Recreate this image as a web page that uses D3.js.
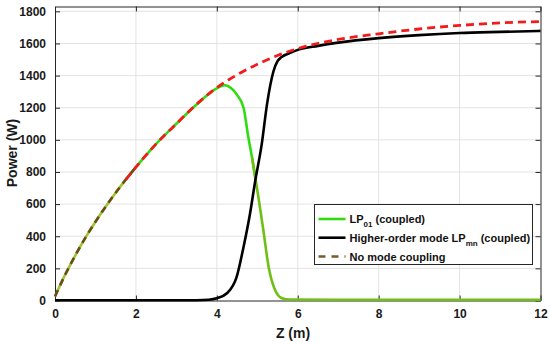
<!DOCTYPE html>
<html>
<head>
<meta charset="utf-8">
<script src="https://cdn.jsdelivr.net/npm/d3@7"></script>
<style>
  html, body { margin: 0; padding: 0; background: #fff; }
  svg { display: block; font-family: "Liberation Sans", Arial, sans-serif; }
</style>
</head>
<body>
<svg id="chart" width="550" height="343"></svg>
<script>
// Data
const zNoCoupling = [0, 0.25, 0.5, 0.75, 1, 1.25, 1.5, 1.75, 2, 2.5, 3, 3.5, 4, 4.5, 5, 5.5, 6, 7, 8, 9, 10, 11, 12];
const pNoCoupling = [25, 160, 280, 390, 490, 583, 671, 753, 830, 975, 1100, 1222, 1325, 1405, 1470, 1525, 1568, 1625, 1660, 1690, 1712, 1728, 1736];

const zLP01 = [0, 0.25, 0.5, 0.75, 1, 1.25, 1.5, 1.75, 2, 2.5, 3, 3.5, 3.9, 4.1, 4.21, 4.35, 4.49, 4.66, 4.78, 4.87, 4.95, 5.03, 5.15, 5.28, 5.44, 5.61, 5.8, 7, 9, 12];
const pLP01 = [25, 160, 280, 390, 490, 583, 671, 753, 830, 975, 1100, 1220, 1305, 1334, 1340, 1322, 1283, 1200, 1014, 890, 766, 640, 437, 209, 65, 14, 6, 5, 5, 5];

const zLPmn = [0, 3.5, 3.8, 4.0, 4.25, 4.49, 4.66, 4.82, 4.95, 5.11, 5.24, 5.4, 5.5, 5.6, 5.8, 6, 6.5, 7, 8, 9, 10, 11, 12];
const pLPmn = [2, 2, 5, 14, 45, 147, 333, 540, 746, 973, 1221, 1427, 1490, 1515, 1540, 1560, 1585, 1605, 1633, 1652, 1665, 1672, 1678];

const xTicks = [0, 2, 4, 6, 8, 10, 12];
const yTicks = [0, 200, 400, 600, 800, 1000, 1200, 1400, 1600, 1800];

const svg = d3.select("#chart");
const m = { left: 55, right: 540.5, top: 6.5, bottom: 300.5 };

const x = d3.scaleLinear().domain([0, 12]).range([m.left, m.right]);
const y = d3.scaleLinear().domain([0, 1830]).range([m.bottom, m.top]);

const toPts = (zs, ps) => zs.map((z, i) => ({ z: z, p: ps[i] }));
const noCoupling = toPts(zNoCoupling, pNoCoupling);
const lp01 = toPts(zLP01, pLP01);
const lpmn = toPts(zLPmn, pLPmn);

// grid
svg.append("g").selectAll("line").data(xTicks.slice(1, -1)).enter().append("line")
  .attr("x1", d => x(d)).attr("x2", d => x(d))
  .attr("y1", m.top).attr("y2", m.bottom)
  .attr("stroke", "#e3e3e3").attr("stroke-width", 1);
svg.append("g").selectAll("line").data(yTicks.slice(1)).enter().append("line")
  .attr("x1", m.left).attr("x2", m.right)
  .attr("y1", d => y(d)).attr("y2", d => y(d))
  .attr("stroke", "#e3e3e3").attr("stroke-width", 1);

// box + inward ticks
const axisColor = "#262626";
const tickFont = "bold 12px 'Liberation Sans', Arial, sans-serif";
const fmt = d3.format("d");

const xAxis = svg.append("g").attr("transform", `translate(0,${m.bottom})`)
  .call(d3.axisBottom(x).tickValues(xTicks).tickFormat(fmt).tickSizeInner(-5).tickSizeOuter(0).tickPadding(9));
const xTop = svg.append("g").attr("transform", `translate(0,${m.top})`)
  .call(d3.axisTop(x).tickValues(xTicks).tickSizeInner(-5).tickSizeOuter(0).tickFormat(""));
const yAxis = svg.append("g").attr("transform", `translate(${m.left},0)`)
  .call(d3.axisLeft(y).tickValues(yTicks).tickFormat(fmt).tickSizeInner(-5).tickSizeOuter(0).tickPadding(9));
const yRight = svg.append("g").attr("transform", `translate(${m.right},0)`)
  .call(d3.axisRight(y).tickValues(yTicks).tickSizeInner(-5).tickSizeOuter(0).tickFormat(""));

[xAxis, xTop, yAxis, yRight].forEach(g => {
  g.selectAll("path").attr("stroke", axisColor).attr("stroke-width", 1);
  g.selectAll("line").attr("stroke", axisColor);
  g.selectAll("text").style("font", tickFont).attr("fill", "#1a1a1a");
});

// curves
const line = d3.line().x(d => x(d.z)).y(d => y(d.p)).curve(d3.curveMonotoneX);
const seg = (pts, a, b) => pts.filter(d => d.z >= a && d.z <= b);

const plot = svg.append("g");
plot.append("path").datum(seg(lp01, 0, 1.9))
  .attr("d", line).attr("fill", "none").attr("stroke", "#9cc82c").attr("stroke-width", 2.6);
plot.append("path").datum(seg(lp01, 1.75, 4.95))
  .attr("d", line).attr("fill", "none").attr("stroke", "#2edc10").attr("stroke-width", 2.6);
plot.append("path").datum(seg(lp01, 4.87, 12))
  .attr("d", line).attr("fill", "none").attr("stroke", "#6fbf16").attr("stroke-width", 2.6);

plot.append("path").datum(lpmn)
  .attr("d", line).attr("fill", "none").attr("stroke", "#000").attr("stroke-width", 2.6);

plot.append("path").datum(seg(noCoupling, 0, 2))
  .attr("d", line).attr("fill", "none").attr("stroke", "#6b4a1c")
  .attr("stroke-width", 2.6).attr("stroke-dasharray", "7,5");
plot.append("path").datum(seg(noCoupling, 1.75, 12))
  .attr("d", line).attr("fill", "none").attr("stroke", "#f51a1a")
  .attr("stroke-width", 2.8).attr("stroke-dasharray", "8,5");

// axis labels
const labelFont = "bold 14px 'Liberation Sans', Arial, sans-serif";
svg.append("text").attr("x", 293).attr("y", 338).attr("text-anchor", "middle")
  .style("font", labelFont).attr("fill", "#1a1a1a")
  .text("Z (m)");
svg.append("text").attr("transform", "translate(17,153) rotate(-90)").attr("text-anchor", "middle")
  .style("font", labelFont).attr("fill", "#1a1a1a")
  .text("Power (W)");

// legend
const legend = svg.append("g").attr("transform", "translate(314.5,204.5)");
legend.append("rect").attr("width", 218).attr("height", 60)
  .attr("fill", "#fff").attr("stroke", "#262626").attr("stroke-width", 1);

const legendItems = [
  { main: "LP", sub: "01", rest: " (coupled)", color: "#2edc10", dash: null },
  { main: "Higher-order mode LP", sub: "mn", rest: " (coupled)", color: "#000", dash: null },
  { main: "No mode coupling", sub: "", rest: "", color: "#7a5a2a", dash: "7,6" }
];
const rowY = [14.5, 33.2, 52];

legendItems.forEach((it, i) => {
  legend.append("line")
    .attr("x1", 4).attr("x2", 31).attr("y1", rowY[i]).attr("y2", rowY[i])
    .attr("stroke", it.color).attr("stroke-width", 2.6)
    .attr("stroke-dasharray", it.dash);
  const t = legend.append("text").attr("x", 35).attr("y", rowY[i] + 4)
    .style("font", "bold 11px 'Liberation Sans', Arial, sans-serif").attr("fill", "#111");
  t.append("tspan").text(it.main);
  if (it.sub) {
    t.append("tspan").attr("dy", 4).style("font-size", "8px").text(it.sub);
    t.append("tspan").attr("dy", -4).text(it.rest);
  }
});
</script>
</body>
</html>
